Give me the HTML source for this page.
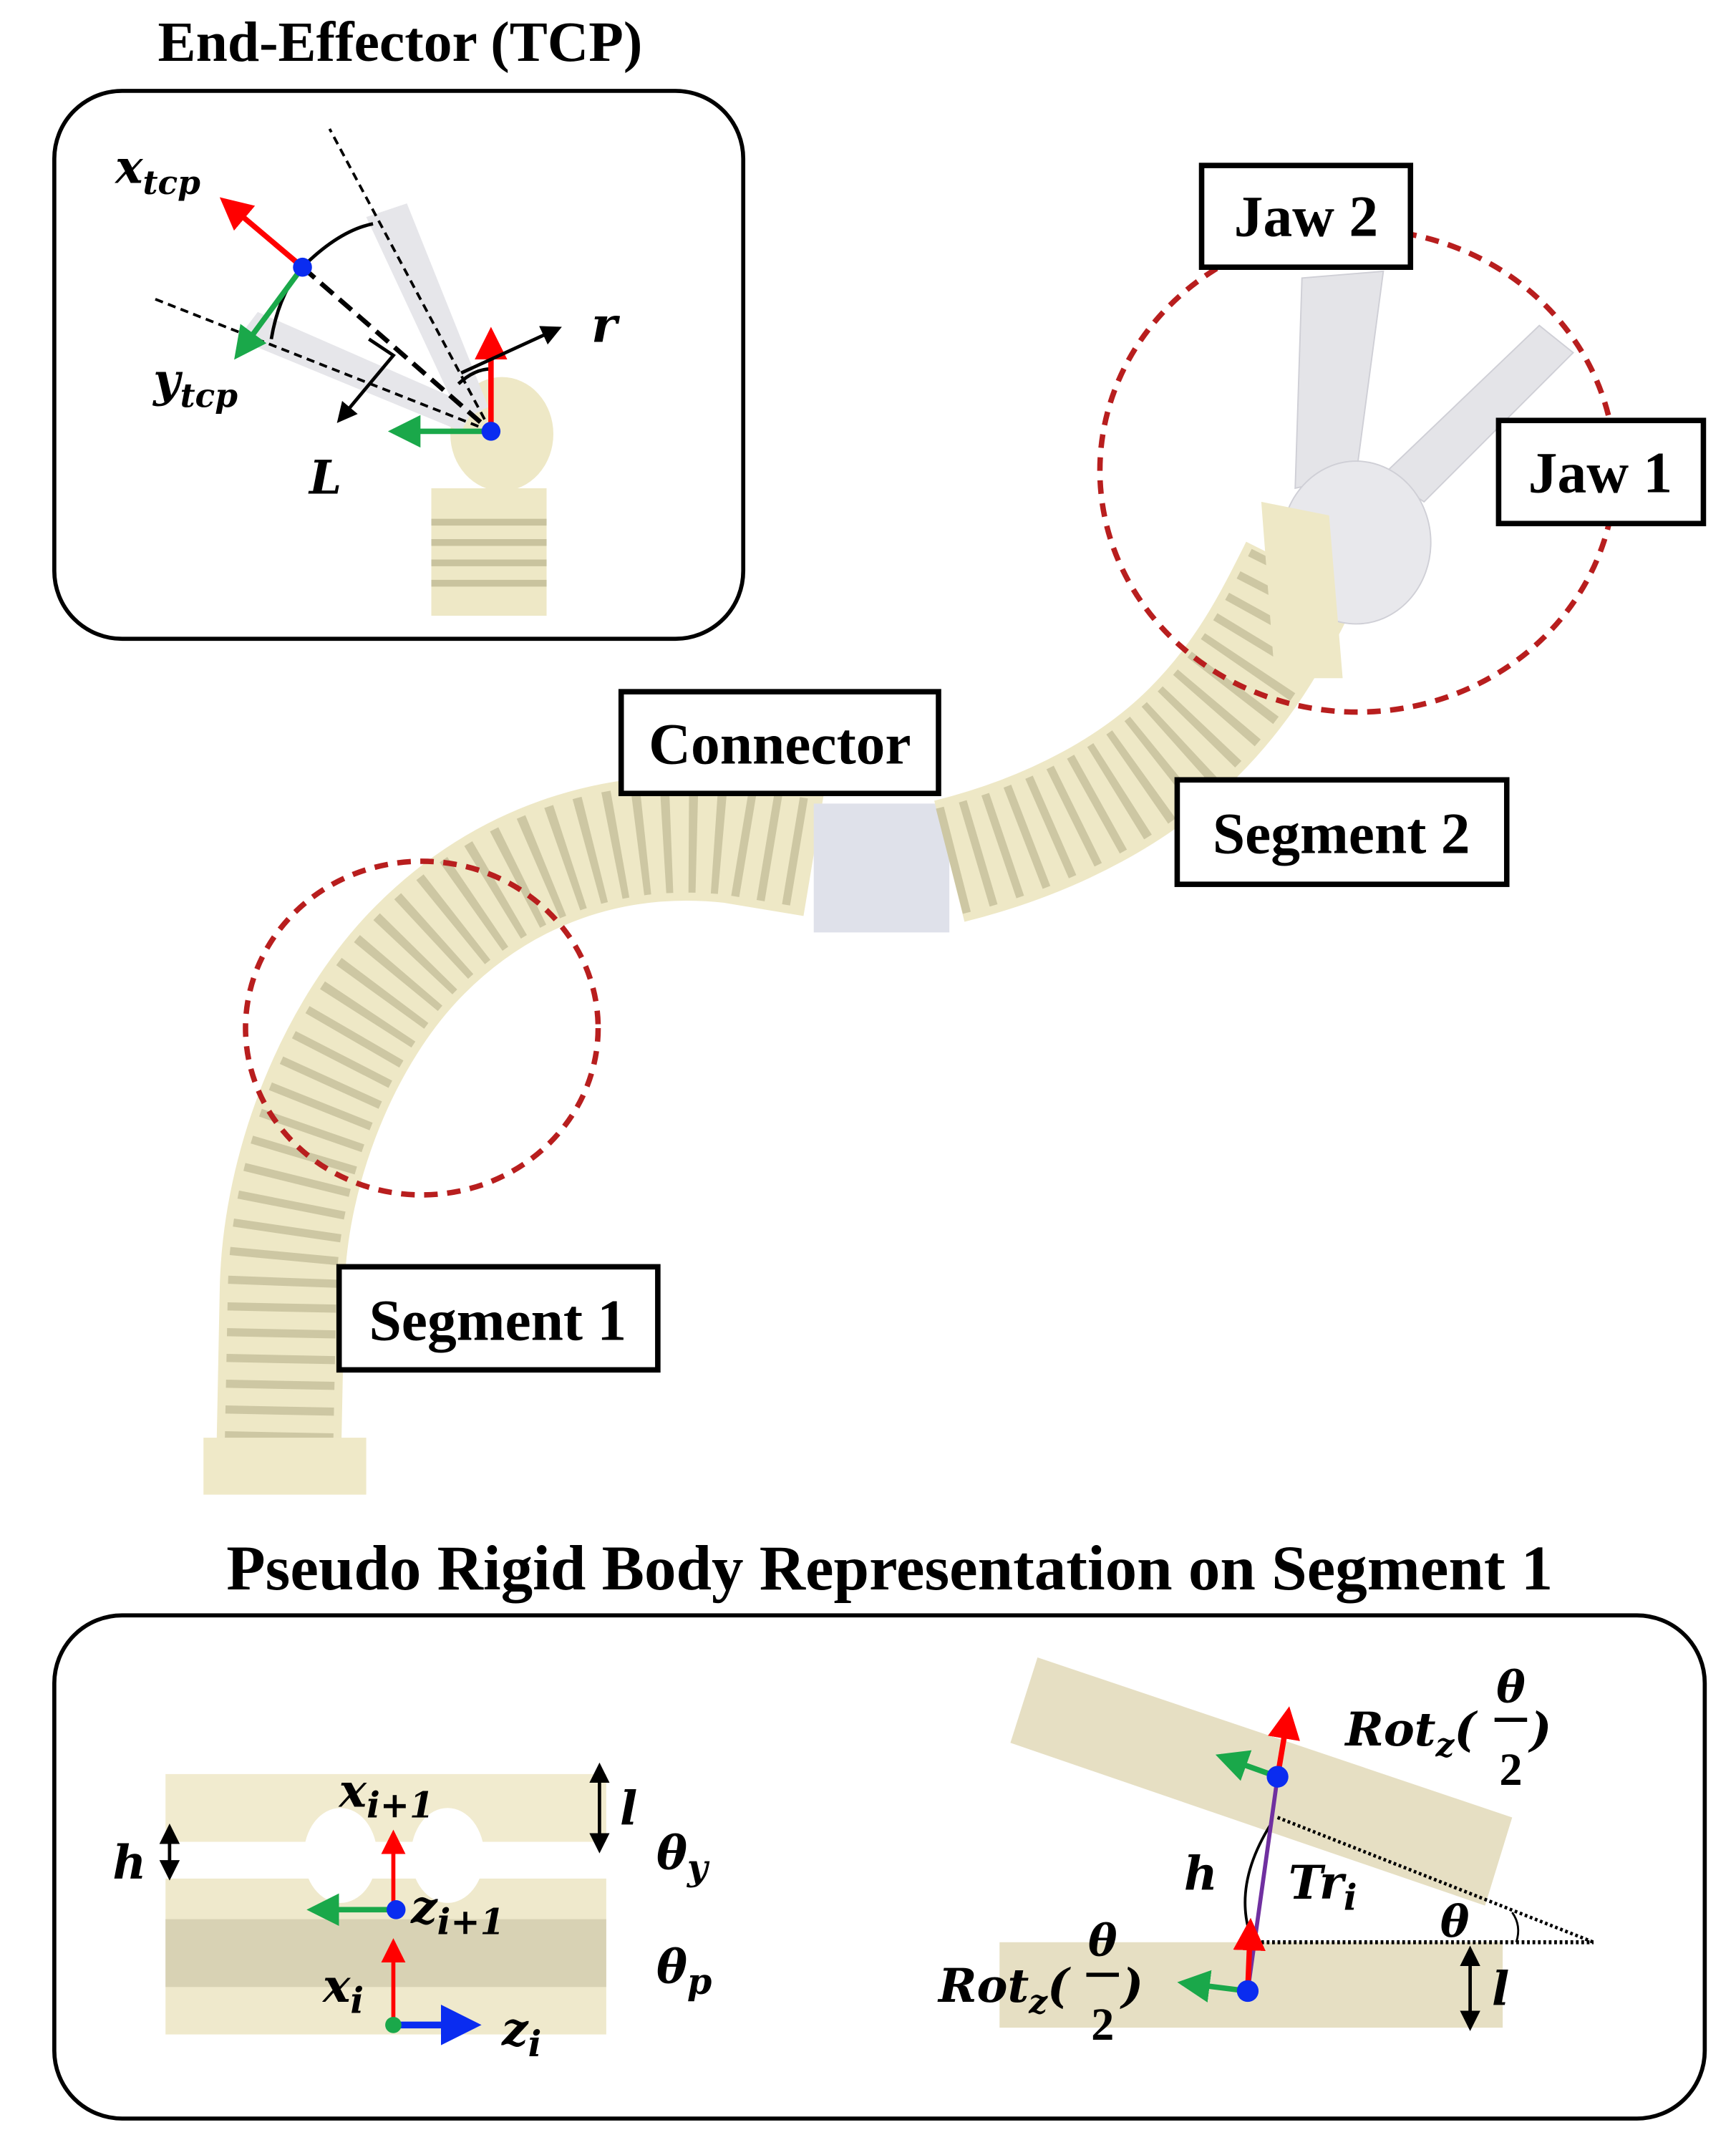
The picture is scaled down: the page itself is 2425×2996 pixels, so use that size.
<!DOCTYPE html>
<html><head><meta charset="utf-8"><style>
html,body{margin:0;padding:0;background:#fff}
svg{display:block}
text{font-family:"Liberation Serif",serif;font-weight:bold}
.m{font-style:italic;font-family:"DejaVu Serif","Liberation Serif",serif}
</style></head><body>
<svg width="2425" height="2996" viewBox="0 0 1280 1581.5" xmlns="http://www.w3.org/2000/svg">
<defs>
<marker id="ar" markerWidth="6" markerHeight="6" refX="5" refY="3" orient="auto"><path d="M0,0L6,3L0,6z" fill="red"/></marker>
<marker id="ag" markerWidth="6" markerHeight="6" refX="5" refY="3" orient="auto"><path d="M0,0L6,3L0,6z" fill="#1aa84a"/></marker>
<marker id="ab" markerWidth="6" markerHeight="6" refX="5" refY="3" orient="auto"><path d="M0,0L6,3L0,6z" fill="#0a2cf0"/></marker>
<marker id="ak" markerWidth="6" markerHeight="6" refX="5" refY="3" orient="auto"><path d="M0,0L6,3L0,6z" fill="#000"/></marker>
<marker id="ak2" markerWidth="6" markerHeight="6" refX="1" refY="3" orient="auto"><path d="M6,0L0,3L6,6z" fill="#000"/></marker>
</defs>

<!-- robot body -->
<path d="M205,1100 L208,950 C210,860 250,760 310,700 C370,640 450,610 540,620 L600,630" fill="none" stroke="#eee8c6" stroke-width="92"/>
<path d="M205,1100 L208,950 C210,860 250,760 310,700 C370,640 450,610 540,620 L600,630" fill="none" stroke="#cdc7a3" stroke-width="80" stroke-dasharray="6 13"/>
<path d="M600,640 L700,640" fill="none" stroke="#dfe1ea" stroke-width="95"/>
<path d="M700,635 C780,615 840,580 880,540 C920,500 940,460 960,420" fill="none" stroke="#eee8c6" stroke-width="92"/>
<path d="M700,635 C780,615 840,580 880,540 C920,500 940,460 960,420" fill="none" stroke="#cdc7a3" stroke-width="80" stroke-dasharray="6 13"/>
<rect x="150" y="1060" width="120" height="42" fill="#efe9c8"/>
<!-- jaws -->
<polygon points="960,205 1020,200 1000,350 955,360" fill="#e4e4e8" stroke="#cfcfd6"/>
<polygon points="1135,240 1160,260 1050,370 1020,350" fill="#e4e4e8" stroke="#cfcfd6"/>
<ellipse cx="1000" cy="400" rx="55" ry="60" fill="#e8e8ec" stroke="#cfcfd6"/>
<polygon points="930,370 980,380 990,500 940,500" fill="#eee8c6"/>

<!-- red circles -->
<ellipse cx="1001" cy="347" rx="190" ry="178" fill="none" stroke="#b81e1e" stroke-width="4" stroke-dasharray="10 7"/>
<ellipse cx="311" cy="758" rx="130" ry="123" fill="none" stroke="#b81e1e" stroke-width="4" stroke-dasharray="10 7"/>

<!-- label boxes -->
<g stroke="#000" stroke-width="4" fill="#fff">
<rect x="886" y="122" width="154" height="75"/>
<rect x="1105" y="310" width="151" height="76"/>
<rect x="458" y="510" width="234" height="75"/>
<rect x="868" y="575" width="243" height="77"/>
<rect x="250" y="934" width="235" height="76"/>
</g>
<g font-size="43" text-anchor="middle">
<text x="963" y="174">Jaw 2</text>
<text x="1180" y="363">Jaw 1</text>
<text x="575" y="563">Connector</text>
<text x="989" y="629">Segment 2</text>
<text x="367" y="988">Segment 1</text>
</g>

<!-- TCP inset -->
<text x="295" y="45" font-size="42" text-anchor="middle">End-Effector (TCP)</text>
<rect x="40" y="67" width="508" height="404" rx="50" fill="#fff" stroke="#000" stroke-width="3"/>
<rect x="318" y="360" width="85" height="94" fill="#eee8c6"/>
<g stroke="#c9c39e" stroke-width="5"><line x1="318" y1="385" x2="403" y2="385"/><line x1="318" y1="400" x2="403" y2="400"/><line x1="318" y1="415" x2="403" y2="415"/><line x1="318" y1="430" x2="403" y2="430"/></g>
<ellipse cx="370" cy="320" rx="38" ry="42" fill="#eee8c6"/>
<polygon points="270,160 300,150 360,300 340,310" fill="#e6e6ea"/>
<polygon points="175,250 190,230 350,300 340,318" fill="#e6e6ea"/>
<g stroke="#000" stroke-width="2" stroke-dasharray="6 4" fill="none">
<line x1="362" y1="318" x2="243" y2="95"/>
<line x1="362" y1="318" x2="113" y2="220"/>
</g>
<line x1="223" y1="197" x2="362" y2="318" stroke="#000" stroke-width="3.5" stroke-dasharray="12 6"/>
<path d="M223,197 Q250,170 275,165" fill="none" stroke="#000" stroke-width="2.5"/>
<path d="M200,250 Q205,220 220,200" fill="none" stroke="#000" stroke-width="2.5"/>
<path d="M338,283 Q350,272 362,272" fill="none" stroke="#000" stroke-width="2.5"/>
<line x1="223" y1="197" x2="165" y2="148" stroke="red" stroke-width="4" marker-end="url(#ar)"/>
<line x1="223" y1="197" x2="175" y2="262" stroke="#1aa84a" stroke-width="4" marker-end="url(#ag)"/>
<polyline points="272,250 290,262 250,310" fill="none" stroke="#000" stroke-width="2.5" marker-end="url(#ak)"/>
<line x1="362" y1="318" x2="362" y2="245" stroke="red" stroke-width="4" marker-end="url(#ar)"/>
<line x1="362" y1="318" x2="290" y2="318" stroke="#1aa84a" stroke-width="4" marker-end="url(#ag)"/>
<line x1="340" y1="275" x2="412" y2="242" stroke="#000" stroke-width="2.5" marker-end="url(#ak)"/>
<circle cx="223" cy="197" r="7" fill="#0a2cf0"/>
<circle cx="362" cy="318" r="7" fill="#0a2cf0"/>
<text class="m" x="85" y="135" font-size="34">x<tspan font-size="24" dy="8">tcp</tspan></text>
<text class="m" x="113" y="292" font-size="34">y<tspan font-size="24" dy="8">tcp</tspan></text>
<text class="m" x="228" y="364" font-size="34">L</text>
<text class="m" x="436" y="252" font-size="36">r</text>

<!-- bottom -->
<text x="656" y="1172" font-size="47" text-anchor="middle">Pseudo Rigid Body Representation on Segment 1</text>
<rect x="40" y="1191" width="1217" height="371" rx="50" fill="#fff" stroke="#000" stroke-width="3"/>
<!-- left blocks -->
<rect x="122" y="1308" width="325" height="50" fill="#f1ebcf"/>
<rect x="122" y="1385" width="325" height="115" fill="#efe9cc"/>
<rect x="122" y="1415" width="325" height="50" fill="#cfc8aa" opacity="0.7"/>
<ellipse cx="251" cy="1368" rx="27" ry="35" fill="#fff"/>
<ellipse cx="330" cy="1368" rx="27" ry="35" fill="#fff"/>
<rect x="122" y="1358" width="325" height="27" fill="#fff"/>
<line x1="125" y1="1347" x2="125" y2="1384" stroke="#000" stroke-width="2.5" marker-start="url(#ak2)" marker-end="url(#ak)"/>
<line x1="442" y1="1302" x2="442" y2="1364" stroke="#000" stroke-width="2.5" marker-start="url(#ak2)" marker-end="url(#ak)"/>
<line x1="290" y1="1408" x2="290" y2="1352" stroke="red" stroke-width="3" marker-end="url(#ar)"/>
<line x1="290" y1="1408" x2="230" y2="1408" stroke="#1aa84a" stroke-width="4" marker-end="url(#ag)"/>
<circle cx="292" cy="1408" r="7" fill="#0a2cf0"/>
<line x1="290" y1="1490" x2="290" y2="1432" stroke="red" stroke-width="3" marker-end="url(#ar)"/>
<line x1="292" y1="1493" x2="350" y2="1493" stroke="#0a2cf0" stroke-width="5" marker-end="url(#ab)"/>
<circle cx="290" cy="1493" r="6" fill="#1aa84a"/>
<text class="m" x="250" y="1332" font-size="34">x<tspan font-size="26" dy="8">i+1</tspan></text>
<text class="m" x="83" y="1385" font-size="34">h</text>
<text class="m" x="457" y="1345" font-size="34">l</text>
<text class="m" x="484" y="1378" font-size="34">θ<tspan font-size="26" dy="8">y</tspan></text>
<text class="m" x="303" y="1418" font-size="34">z<tspan font-size="26" dy="8">i+1</tspan></text>
<text class="m" x="484" y="1462" font-size="34">θ<tspan font-size="26" dy="8">p</tspan></text>
<text class="m" x="238" y="1476" font-size="34">x<tspan font-size="26" dy="8">i</tspan></text>
<text class="m" x="370" y="1508" font-size="34">z<tspan font-size="26" dy="8">i</tspan></text>
<!-- right -->
<polygon points="765,1222 1115,1340 1095,1405 745,1285" fill="#e6dfc3"/>
<rect x="737" y="1432" width="371" height="63" fill="#e6dfc3"/>
<line x1="942" y1="1340" x2="1175" y2="1432" stroke="#000" stroke-width="2.5" stroke-dasharray="2 2"/>
<line x1="930" y1="1432" x2="1175" y2="1432" stroke="#000" stroke-width="3" stroke-dasharray="2 2"/>
<path d="M1115,1410 Q1122,1420 1118,1432" fill="none" stroke="#000" stroke-width="1.5"/>
<path d="M937,1345 Q912,1385 920,1420" fill="none" stroke="#000" stroke-width="2"/>
<line x1="942" y1="1310" x2="920" y2="1468" stroke="#7030a0" stroke-width="3"/>
<line x1="942" y1="1310" x2="950" y2="1262" stroke="red" stroke-width="4" marker-end="url(#ar)"/>
<line x1="942" y1="1310" x2="900" y2="1295" stroke="#1aa84a" stroke-width="4" marker-end="url(#ag)"/>
<line x1="920" y1="1468" x2="922" y2="1418" stroke="red" stroke-width="4" marker-end="url(#ar)"/>
<line x1="920" y1="1468" x2="872" y2="1462" stroke="#1aa84a" stroke-width="4" marker-end="url(#ag)"/>
<circle cx="942" cy="1310" r="8" fill="#0a2cf0"/>
<circle cx="920" cy="1468" r="8" fill="#0a2cf0"/>
<line x1="1084" y1="1437" x2="1084" y2="1495" stroke="#000" stroke-width="2.5" marker-start="url(#ak2)" marker-end="url(#ak)"/>
<text class="m" x="992" y="1287" font-size="34">Rot<tspan font-size="24" dy="8">z</tspan><tspan dy="-8">(</tspan></text>
<text class="m" x="1114" y="1255" font-size="32" text-anchor="middle">θ</text>
<line x1="1102" y1="1268" x2="1126" y2="1268" stroke="#000" stroke-width="3"/>
<text x="1114" y="1316" font-size="34" text-anchor="middle">2</text>
<text class="m" x="1128" y="1287" font-size="34">)</text>
<text class="m" x="692" y="1476" font-size="34">Rot<tspan font-size="24" dy="8">z</tspan><tspan dy="-8">(</tspan></text>
<text class="m" x="813" y="1442" font-size="32" text-anchor="middle">θ</text>
<line x1="801" y1="1456" x2="825" y2="1456" stroke="#000" stroke-width="3"/>
<text x="813" y="1504" font-size="34" text-anchor="middle">2</text>
<text class="m" x="827" y="1476" font-size="34">)</text>
<text class="m" x="873" y="1393" font-size="34">h</text>
<text class="m" x="950" y="1400" font-size="34">Tr<tspan font-size="26" dy="8">i</tspan></text>
<text class="m" x="1062" y="1428" font-size="32">θ</text>
<text class="m" x="1100" y="1478" font-size="34">l</text>
</svg>
</body></html>
